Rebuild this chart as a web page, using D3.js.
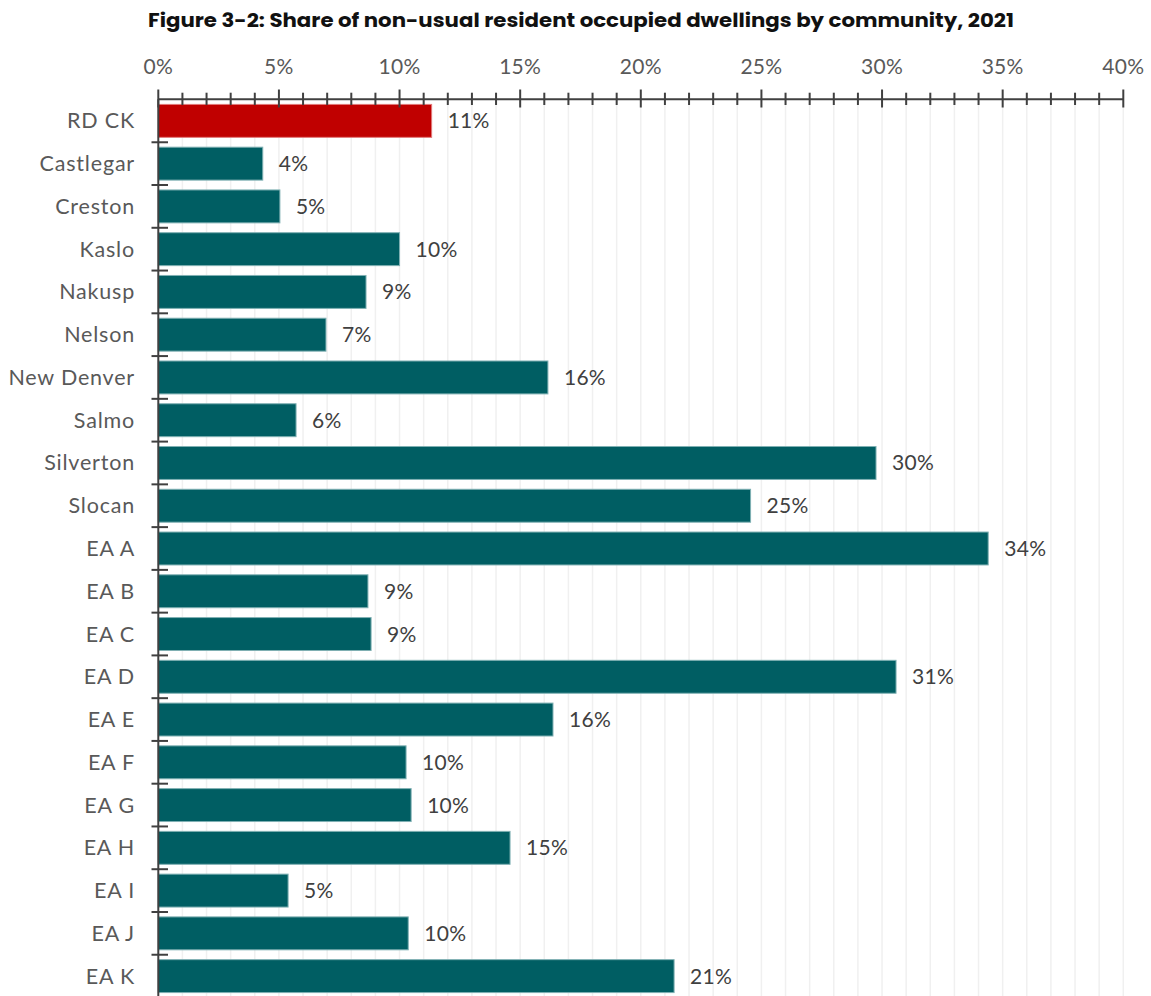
<!DOCTYPE html>
<html><head><meta charset="utf-8">
<script src="https://cdn.jsdelivr.net/npm/d3@7"></script>
<style>body{margin:0;background:#fff}</style>
</head><body>
<script>
const categories = ["RDCK","Castlegar","Creston","Kaslo","Nakusp","Nelson","New Denver","Salmo","Silverton","Slocan","EA A","EA B","EA C","EA D","EA E","EA F","EA G","EA H","EA I","EA J","EA K"];
const displayNames = ["RD CK","Castlegar","Creston","Kaslo","Nakusp","Nelson","New Denver","Salmo","Silverton","Slocan","EA A","EA B","EA C","EA D","EA E","EA F","EA G","EA H","EA I","EA J","EA K"];
const values = [0.1133,0.0433,0.0504,0.1000,0.0861,0.0695,0.1615,0.0571,0.2975,0.2455,0.3440,0.0869,0.0882,0.3058,0.1636,0.1027,0.1048,0.1458,0.0538,0.1036,0.2138];
const majorTicks = [0,0.05,0.10,0.15,0.20,0.25,0.30,0.35,0.40];
const minorTicks = d3.range(0,41).map(d=>d/100);
const title = "Figure 3-2: Share of non-usual resident occupied dwellings by community, 2021";

const W=1151,H=996;
const svg=d3.select("body").append("svg").attr("width",W).attr("height",H);
const x=d3.scaleLinear().domain([0,0.4]).range([158.3,1123.3]);
const y=d3.scaleBand().domain(categories).range([99.5,997.5]).paddingInner(0.23).paddingOuter(0.115);
const textCol="#595959";

svg.append("text").attr("x",581).attr("y",27).attr("text-anchor","middle")
  .attr("font-family","Poppins, Inter, sans-serif").attr("font-weight",700).attr("font-size",19.5)
  .attr("fill","#111").attr("textLength",866).attr("lengthAdjust","spacingAndGlyphs").text(title);

// gridlines
svg.append("g").selectAll("line").data(minorTicks.slice(1)).join("line")
  .attr("x1",d=>x(d)).attr("x2",d=>x(d)).attr("y1",99.5).attr("y2",997)
  .attr("stroke","#f0f0f0").attr("stroke-width",1.5);

// bars
svg.append("g").selectAll("rect").data(categories).join("rect")
  .attr("x",x(0)).attr("y",d=>y(d)).attr("height",y.bandwidth())
  .attr("width",(d,i)=>x(values[i])-x(0))
  .attr("fill",(d,i)=>i===0?"#c00000":"#005e63")
  .attr("stroke",(d,i)=>i===0?"#e27a7a":"#7fb0b3").attr("stroke-width",1);

// value labels
svg.append("g").selectAll("text").data(categories).join("text")
  .attr("x",(d,i)=>x(values[i])+16).attr("y",d=>y(d)+y.bandwidth()/2+7.5)
  .attr("font-family","Lato, 'Open Sans', sans-serif").attr("font-size",21).attr("letter-spacing",0.3).attr("fill","#404040")
  .text((d,i)=>d3.format(".0%")(values[i]));

// top axis
const ax=svg.append("g");
ax.append("line").attr("x1",x(0)).attr("x2",x(0.4)).attr("y1",99.3).attr("y2",99.3).attr("stroke","#404040").attr("stroke-width",2);
ax.selectAll(".mn").data(minorTicks).join("line")
  .attr("x1",d=>x(d)).attr("x2",d=>x(d))
  .attr("y1",d=>majorTicks.some(m=>Math.abs(m-d)<1e-9)?89.5:92.7)
  .attr("y2",d=>majorTicks.some(m=>Math.abs(m-d)<1e-9)?107.5:105)
  .attr("stroke","#404040").attr("stroke-width",2);
ax.selectAll(".tl").data(majorTicks).join("text")
  .attr("x",d=>x(d)).attr("y",74).attr("text-anchor","middle")
  .attr("font-family","Lato, 'Open Sans', sans-serif").attr("font-size",21).attr("letter-spacing",0.3).attr("fill",textCol)
  .text(d=>d3.format(".0%")(d));

// left axis
const ly=svg.append("g");
ly.append("line").attr("x1",x(0)).attr("x2",x(0)).attr("y1",99.3).attr("y2",997).attr("stroke","#404040").attr("stroke-width",2);
const bounds=categories.slice(1).map(c=>y(c)-y.step()*y.paddingInner()/2);
ly.selectAll(".bt").data(bounds).join("line")
  .attr("x1",151.5).attr("x2",168).attr("y1",d=>d).attr("y2",d=>d)
  .attr("stroke","#404040").attr("stroke-width",2);
ly.selectAll(".cl").data(categories).join("text")
  .attr("x",135).attr("y",d=>y(d)+y.bandwidth()/2+7.5).attr("text-anchor","end")
  .attr("font-family","Lato, 'Open Sans', sans-serif").attr("font-size",21.5).attr("letter-spacing",0.8).attr("fill",textCol)
  .text((d,i)=>displayNames[i]);
</script>
</body></html>
